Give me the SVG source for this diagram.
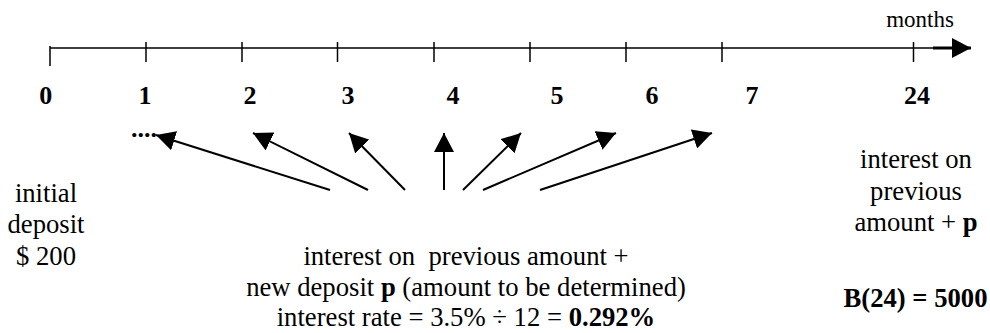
<svg xmlns="http://www.w3.org/2000/svg" width="990" height="333" viewBox="0 0 990 333">
<style>
  text { font-family: "Liberation Serif", "Times New Roman", serif; fill: #000; }
  .t { font-family: "Liberation Serif", "Times New Roman", serif; font-size: 26.67px; text-anchor: middle; }
  .num { font-family: "Liberation Serif", "Times New Roman", serif; font-size: 26px; font-weight: bold; text-anchor: middle; }
  .b { font-weight: bold; }
  .axis { stroke: #000; stroke-width: 1.5; fill: none; }
  .tick { stroke: #000; stroke-width: 1.5; }
  .arr { stroke: #000; stroke-width: 2; fill: none; marker-end: url(#head); }
</style>
<defs>
  <marker id="head" markerUnits="userSpaceOnUse" markerWidth="19" markerHeight="20" refX="19" refY="10" orient="auto" viewBox="0 0 19 20">
    <path d="M0,0 L19,10 L0,20 Z" fill="#000"/>
  </marker>
</defs>
<rect width="990" height="333" fill="#fff"/>

<g id="timeline">
  <line class="axis" x1="50" y1="48" x2="940" y2="48"/>
  <line x1="933" y1="48" x2="971" y2="48" stroke="#000" stroke-width="3" marker-end="url(#head)"/>
  <line class="tick" x1="50" y1="46" x2="50" y2="66"/>
  <line class="tick" x1="146" y1="42" x2="146" y2="62"/>
  <line class="tick" x1="242" y1="42" x2="242" y2="62"/>
  <line class="tick" x1="337.5" y1="42" x2="337.5" y2="62"/>
  <line class="tick" x1="434" y1="42" x2="434" y2="62"/>
  <line class="tick" x1="530" y1="42" x2="530" y2="62"/>
  <line class="tick" x1="626" y1="42" x2="626" y2="62"/>
  <line class="tick" x1="722" y1="42" x2="722" y2="62"/>
  <line class="tick" x1="913.5" y1="42" x2="913.5" y2="62"/>
  <text x="920" y="27" style="font-size:23px" text-anchor="middle">months</text>
</g>

<g id="month-labels">
  <text class="num" x="45.7" y="104">0</text>
  <text class="num" x="145" y="104">1</text>
  <text class="num" x="250" y="104">2</text>
  <text class="num" x="348" y="104">3</text>
  <text class="num" x="453" y="104">4</text>
  <text class="num" x="557" y="104">5</text>
  <text class="num" x="652" y="104">6</text>
  <text class="num" x="752" y="104">7</text>
  <text class="num" x="917" y="104">24</text>
</g>

<g id="dots">
  <text x="131" y="137" class="b" style="font-size:26px">....</text>
</g>

<g id="connectors">
  <line class="arr" x1="330" y1="190" x2="156" y2="135"/>
  <line class="arr" x1="368" y1="190" x2="253" y2="133"/>
  <line class="arr" x1="405" y1="190" x2="349" y2="133"/>
  <line class="arr" x1="444" y1="190" x2="444" y2="133"/>
  <line class="arr" x1="463" y1="190" x2="521" y2="133"/>
  <line class="arr" x1="483" y1="190" x2="616" y2="133"/>
  <line class="arr" x1="540" y1="190" x2="712" y2="133"/>
</g>

<g id="initial-deposit">
  <text class="t" x="46" y="201.5">initial</text>
  <text class="t" x="46" y="233">deposit</text>
  <text class="t" x="46" y="265">$ 200</text>
</g>

<g id="monthly-deposit">
  <text class="t" x="466" y="265" xml:space="preserve">interest on  previous amount +</text>
  <text class="t" x="466" y="295.5">new deposit <tspan class="b">p</tspan> (amount to be determined)</text>
  <text class="t" x="466" y="326">interest rate = 3.5% ÷ 12 = <tspan class="b">0.292%</tspan></text>
</g>

<g id="final-balance">
  <text class="t" x="916" y="168">interest on</text>
  <text class="t" x="916" y="199.5">previous</text>
  <text class="t" x="916" y="231">amount + <tspan class="b">p</tspan></text>
  <text class="t b" x="915.5" y="307">B(24) = 5000</text>
</g>
</svg>
